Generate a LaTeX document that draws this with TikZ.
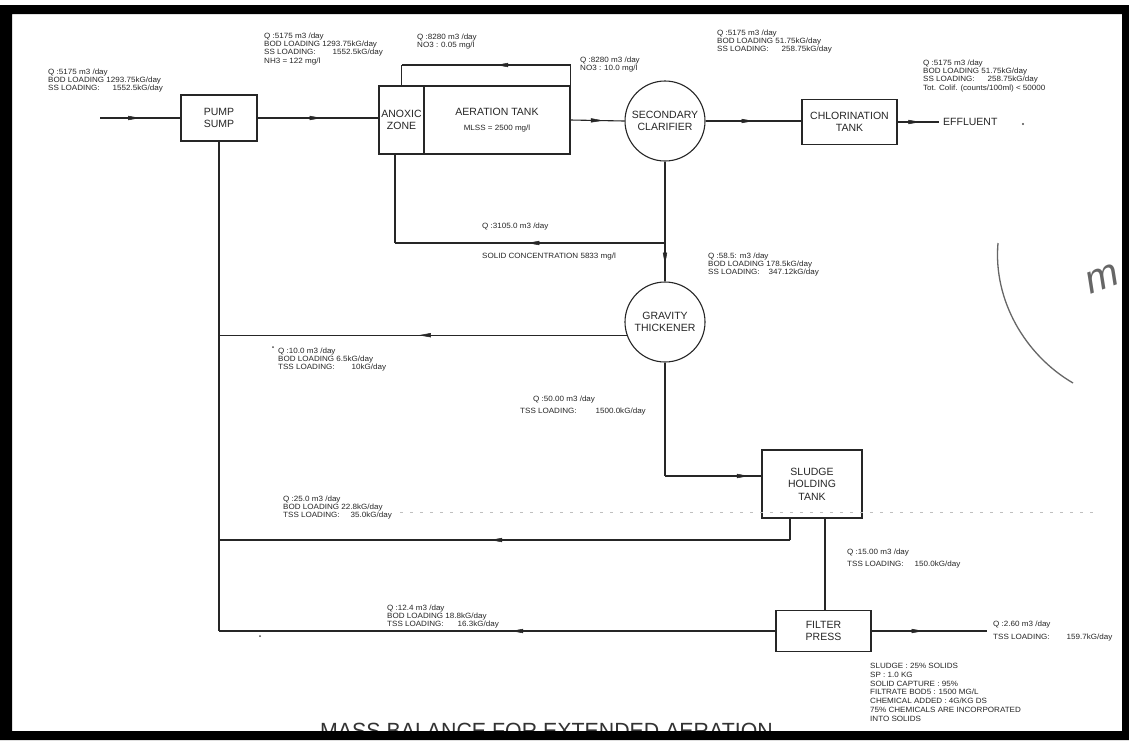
\documentclass[tikz,border=0pt]{standalone}
\usepackage{fontspec}
\setmainfont{Liberation Sans}
\newfontfamily\cadfont[FakeStretch=1.06]{Liberation Sans}
\newfontfamily\ttlfont[FakeStretch=0.97]{Liberation Sans}
\usetikzlibrary{arrows.meta,decorations.markings,calc}
\newcommand{\lblf}{\cadfont\fontsize{7.6}{8.1}\selectfont}
\newcommand{\notef}{\cadfont\fontsize{7.6}{8.8}\selectfont}
\newcommand{\bxf}{\fontsize{10.5}{12.5}\selectfont}
\newcommand{\gp}[1]{\hspace*{#1pt}}
\begin{document}
\begin{tikzpicture}[x=1pt,y=-1pt,
  ln/.style={draw=black!85, line width=1.1pt},
  unitbase/.style={ln, fill=white, inner sep=1pt, align=center, font=\bxf, text=black!85},
  boxu/.style={unitbase, rectangle},
  tanku/.style={unitbase, circle, minimum size=80pt},
  lab/.style={inner sep=0pt, anchor=north west, align=left, font=\lblf, text=black!85},
  arr/.style={postaction={decorate}, decoration={markings, mark=at position #1 with {\arrow[line width=0.5pt]{Triangle[length=12pt,width=4.2pt]}}}},
]
\fill[white] (0,0) rectangle (1129,740);
\useasboundingbox (0,0) rectangle (1129,740);

% units
\node[boxu, minimum width=76pt, minimum height=46pt] (pump) at (219,118) {PUMP\\SUMP};
\node[boxu, minimum width=45pt, minimum height=68pt] (anox) at (401.5,120) {ANOXIC\\ZONE};
\node[boxu, minimum width=146pt, minimum height=68pt] (aer) at (497,120) {AERATION TANK\\[3pt]{\lblf MLSS = 2500 mg/l}};
\node[tanku] (clar) at (665,121) {SECONDARY\\CLARIFIER};
\node[boxu, minimum width=95pt, minimum height=45pt] (chlor) at (849.5,122) {CHLORINATION\\TANK};
\node[inner ysep=1pt, inner xsep=4pt, anchor=west, font=\bxf, text=black!85] (effl) at (939,122) {EFFLUENT};
\node[tanku] (thick) at (665,322) {GRAVITY\\THICKENER};
\node[boxu, minimum width=100pt, minimum height=68pt] (sludge) at (812,484) {SLUDGE\\HOLDING\\TANK};
\node[boxu, minimum width=95pt, minimum height=41pt] (filter) at (823.5,631) {FILTER\\PRESS};

% coordinates
\coordinate (inl) at (100,118);
\coordinate (rtop) at (571,65);
\coordinate (rasj) at (665,243);
\coordinate (rasin) at ($(anox.south)+(-6.5,0)$);
\coordinate (sin) at ($(sludge.west)+(0,-8)$);
\coordinate (so1) at ($(sludge.south)+(-22,0)$);
\coordinate (so2) at ($(sludge.south)+(13,0)$);
\coordinate (ry) at (0,540);
\coordinate (cake) at (987,631);

% connectors
\draw[ln, arr=0.5] (inl) -- (pump.west);
\draw[ln, arr=0.53] (pump.east) -- (pump.east -| anox.west);
\draw[ln, arr=0.6] (aer.east) -- (clar.west);
\draw[ln] (aer.east) -- (aer.east |- rtop);
\draw[ln, arr=0.44] (aer.east |- rtop) -- (anox.north |- rtop);
\draw[ln] (anox.north |- rtop) -- (anox.north);
\draw[ln, arr=0.5] (clar.east) -- (clar.east -| chlor.west);
\draw[ln, arr=0.55] (chlor.east) -- (effl.west);
\draw[ln, arr=0.86] (clar.south) -- (thick.north);
\draw[ln, arr=0.51] (rasj) -- (rasj -| rasin);
\draw[ln] (rasj -| rasin) -- (rasin);
\draw[ln] (pump.south) -- (pump.south |- filter.west);
\draw[ln, arr=0.51] (thick.199) -- (thick.199 -| pump.south);
\draw[ln] (thick.south) -- (thick.south |- sin);
\draw[ln, arr=0.87] (thick.south |- sin) -- (sin);
\draw[ln] (so1) -- (so1 |- ry);
\draw[ln, arr=0.525] (so1 |- ry) -- (pump.south |- ry);
\draw[ln] (so2) -- (so2 |- filter.north);
\draw[ln, arr=0.475] (filter.west) -- (filter.west -| pump.south);
\draw[ln, arr=0.45] (filter.east) -- (cake);

% labels
\node[lab] (lin) at (48,69) {Q :5175 m3 /day\\BOD LOADING 1293.75kG/day\\SS LOADING:\gp{13}1552.5kG/day};
\node[lab] (lpa) at (264,33) {Q :5175 m3 /day\\BOD LOADING 1293.75kG/day\\SS LOADING:\gp{17}1552.5kG/day\\NH3 = 122 mg/l};
\node[lab] (lrc) at (417,34) {Q :8280 m3 /day\\NO3 : 0.05 mg/l};
\node[lab] (lout) at (580,57) {Q :8280 m3 /day\\NO3 : 10.0 mg/l};
\node[lab] (lcc) at (717,30) {Q :5175 m3 /day\\BOD LOADING 51.75kG/day\\SS LOADING:\gp{13}258.75kG/day};
\node[lab] (lef) at (923,60) {Q :5175 m3 /day\\BOD LOADING 51.75kG/day\\SS LOADING:\gp{13}258.75kG/day\\Tot. Colif. (counts/100ml) < 50000};
\node[lab] (lras1) at (482,223) {Q :3105.0 m3 /day};
\node[lab] (lras2) at (482,253) {SOLID CONCENTRATION 5833 mg/l};
\node[lab] (lthin) at (708,253) {Q :58.5: m3 /day\\BOD LOADING 178.5kG/day\\SS LOADING:\gp{9}347.12kG/day};
\node[lab] (lsup) at (278,348) {Q :10.0 m3 /day\\BOD LOADING 6.5kG/day\\TSS LOADING:\gp{17}10kG/day};
\node[lab] (lund1) at (533,396) {Q :50.00 m3 /day};
\node[lab] (lund2) at (520,408) {TSS LOADING:\gp{19}1500.0kG/day};
\node[lab] (lsl) at (283,496) {Q :25.0 m3 /day\\BOD LOADING 22.8kG/day\\TSS LOADING:\gp{11}35.0kG/day};
\node[lab] (ltf1) at (847,549) {Q :15.00 m3 /day};
\node[lab] (ltf2) at (847,561) {TSS LOADING:\gp{11}150.0kG/day};
\node[lab] (lfilt) at (387,605) {Q :12.4 m3 /day\\BOD LOADING 18.8kG/day\\TSS LOADING:\gp{14}16.3kG/day};
\node[lab] (lcake1) at (993,621) {Q :2.60 m3 /day};
\node[lab] (lcake2) at (993,634) {TSS LOADING:\gp{17}159.7kG/day};
\node[lab, font=\notef] (lnotes) at (870,663) {SLUDGE : 25\% SOLIDS\\SP : 1.0 KG\\SOLID CAPTURE : 95\%\\FILTRATE BOD5 : 1500 MG/L\\CHEMICAL ADDED : 4G/KG DS\\75\% CHEMICALS ARE INCORPORATED\\INTO SOLIDS};

% title (cut by the frame)
\node[inner sep=0pt, anchor=base west, font=\ttlfont\fontsize{22}{22}\selectfont, text=black!80] (title) at (320,738) {MASS BALANCE FOR EXTENDED AERATION};

% scan marks and handwriting
\fill[black!70] (1023,124) circle (1.2);
\fill[black!70] (273,347) circle (1);
\fill[black!70] (260,636) circle (1);
\draw[black!25, line width=0.7pt, dash pattern=on 3pt off 7pt] (400,512) -- (1100,512);
\draw[black!60, line width=1.3pt] (998,243) .. controls (993,300) and (1025,355) .. (1073,383);
\node[inner sep=0pt, font=\fontsize{40}{40}\selectfont\itshape, text=black!60, rotate=20] (hw) at (1102,279) {m};

% frame
\fill[black, even odd rule] (0,5) rectangle (1129,740) (12,14) rectangle (1122,731);
\end{tikzpicture}
\end{document}
